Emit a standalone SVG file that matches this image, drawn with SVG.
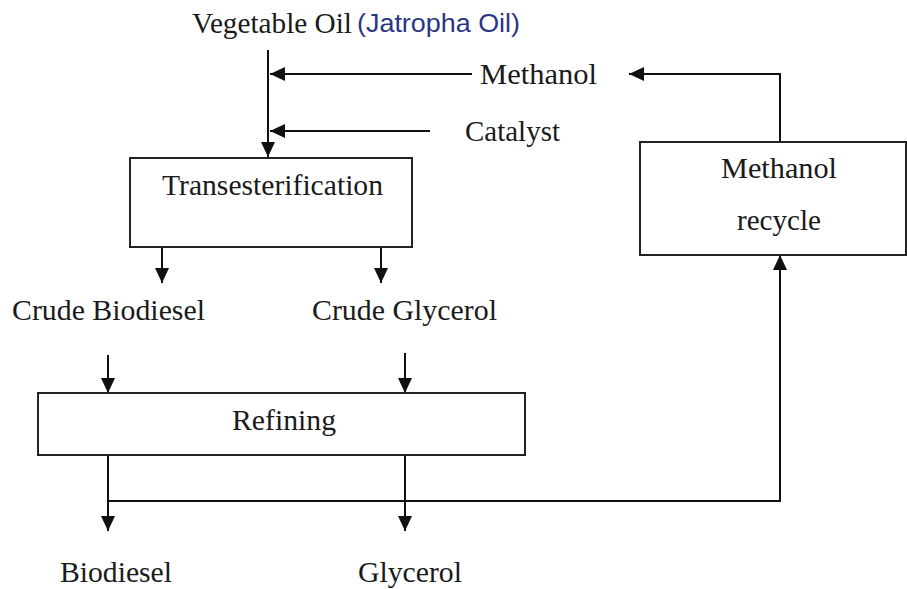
<svg xmlns="http://www.w3.org/2000/svg" width="907" height="589" viewBox="0 0 907 589">
<style>
.t{font-family:"Liberation Serif","Times New Roman",serif;font-size:29px;fill:#1a1a1a}
.box{fill:#fff;stroke:#222;stroke-width:2}
.c{fill:none;stroke:#111;stroke-width:2}
</style>
<defs>
<marker id="ah" markerUnits="userSpaceOnUse" markerWidth="16" markerHeight="14" refX="15" refY="7" orient="auto">
<path d="M0,0 L15,7 L0,14 z" fill="#111"/>
</marker>
</defs>
<rect width="907" height="589" fill="#fff"/>
<g id="connectors">
<line class="c" x1="268" y1="50" x2="268" y2="157" marker-end="url(#ah)"/>
<line class="c" x1="472" y1="74" x2="270" y2="74" marker-end="url(#ah)"/>
<line class="c" x1="430" y1="131" x2="270" y2="131" marker-end="url(#ah)"/>
<line class="c" x1="162" y1="247" x2="162" y2="283" marker-end="url(#ah)"/>
<line class="c" x1="381" y1="247" x2="381" y2="283" marker-end="url(#ah)"/>
<line class="c" x1="108" y1="355" x2="108" y2="393" marker-end="url(#ah)"/>
<line class="c" x1="405" y1="353" x2="405" y2="393" marker-end="url(#ah)"/>
<line class="c" x1="108" y1="455" x2="108" y2="531" marker-end="url(#ah)"/>
<line class="c" x1="405" y1="455" x2="405" y2="531" marker-end="url(#ah)"/>
<path class="c" d="M108,501 H780 V255" marker-end="url(#ah)"/>
<path class="c" d="M780,142 V74 H629" marker-end="url(#ah)"/>
</g>
<g id="vegetable-oil">
<text class="t" x="192" y="33" textLength="160" lengthAdjust="spacingAndGlyphs">Vegetable Oil</text>
<text x="357" y="32" textLength="163" lengthAdjust="spacingAndGlyphs" style="font-family:'Liberation Sans',Arial,sans-serif;font-size:25px;fill:#2b3585">(Jatropha Oil)</text>
</g>
<g id="methanol"><text class="t" x="480" y="84" textLength="117" lengthAdjust="spacingAndGlyphs">Methanol</text></g>
<g id="catalyst"><text class="t" x="465" y="141" textLength="95" lengthAdjust="spacingAndGlyphs">Catalyst</text></g>
<g id="transesterification">
<rect class="box" x="130" y="158" width="282" height="89"/>
<text class="t" x="162" y="195" textLength="221" lengthAdjust="spacingAndGlyphs">Transesterification</text>
</g>
<g id="crude-biodiesel"><text class="t" x="12" y="320" textLength="193" lengthAdjust="spacingAndGlyphs">Crude Biodiesel</text></g>
<g id="crude-glycerol"><text class="t" x="312" y="320" textLength="185" lengthAdjust="spacingAndGlyphs">Crude Glycerol</text></g>
<g id="refining">
<rect class="box" x="38" y="393" width="487" height="62"/>
<text class="t" x="232" y="430" textLength="104" lengthAdjust="spacingAndGlyphs">Refining</text>
</g>
<g id="methanol-recycle">
<rect class="box" x="640" y="142" width="266" height="113"/>
<text class="t" x="721" y="178" textLength="116" lengthAdjust="spacingAndGlyphs">Methanol</text>
<text class="t" x="737" y="230" textLength="84" lengthAdjust="spacingAndGlyphs">recycle</text>
</g>
<g id="biodiesel"><text class="t" x="60" y="582" textLength="112" lengthAdjust="spacingAndGlyphs">Biodiesel</text></g>
<g id="glycerol"><text class="t" x="358" y="582" textLength="104" lengthAdjust="spacingAndGlyphs">Glycerol</text></g>
</svg>
